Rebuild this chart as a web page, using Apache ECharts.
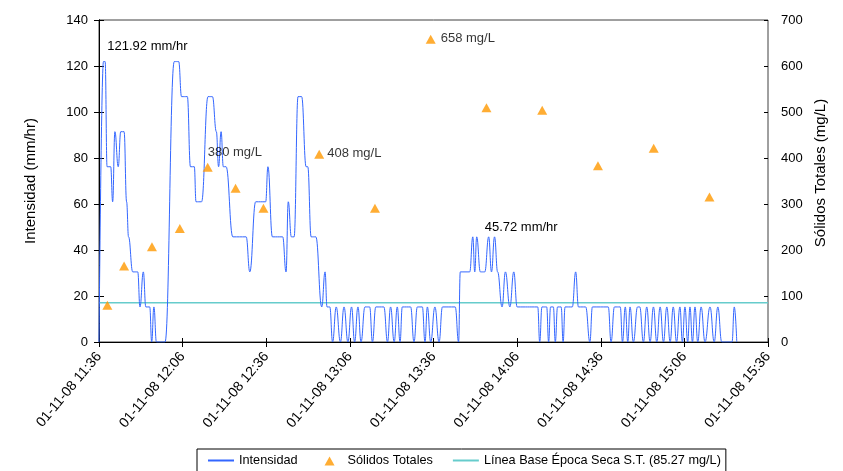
<!DOCTYPE html>
<html><head><meta charset="utf-8">
<script src="https://cdn.jsdelivr.net/npm/echarts@6/dist/echarts.min.js"></script>
<style>html,body{margin:0;padding:0;background:#fff}#c{width:843px;height:471px}</style>
</head><body><div id="c"></div>
<script>
// X tick labels (every 30 minutes from 11:36)
const etiquetasX = ["01-11-08 11:36","01-11-08 12:06","01-11-08 12:36","01-11-08 13:06","01-11-08 13:36","01-11-08 14:06","01-11-08 14:36","01-11-08 15:06","01-11-08 15:36"];

// Intensidad: time in minutes after 11:36 and intensity (mm/hr)
const tiempoInt = [
  0,1.6,2.2,2.9,4.2,4.9,5.7,6.9,7.8,9.0,9.9,10.6,12.1,13.9,14.7,15.9,16.8,18.2,18.9,19.7,20.6,23.7,
  27.0,28.6,29.6,31.7,32.8,34.2,34.8,36.8,39.1,40.7,42.1,42.9,43.8,44.6,45.6,48.0,52.8,54.1,56.2,59.8,
  60.6,62.2,65.9,67.1,67.9,69.0,70.0,71.4,72.7,74.3,74.9,76.1,77.8,79.9,81.1,81.8,82.8,
  83.8,85.1,86.6,87.9,89.3,90.6,91.7,92.9,94.0,95.4,97.1,98.1,99.3,102.2,103.5,104.6,105.9,107.0,108.0,
  108.8,111.8,113.0,114.2,116.0,116.95,117.8,119.0,120.5,122.0,123.2,127.8,129.0,
  129.6,133.0,134.1,134.8,135.5,136.8,138.4,139.8,140.8,141.9,143.0,144.6,145.8,147.4,148.8,150.0,
  157.4,158.1,158.9,160.6,161.3,162.0,163.0,163.7,164.5,165.8,166.5,167.2,169.8,171.0,172.0,174.6,
  176.1,177.0,182.7,183.7,184.9,187.0,
  187.8,188.8,189.7,190.5,191.7,193.2,194.0,195.3,196.5,197.7,198.9,200.1,201.3,202.5,203.7,204.9,
  206.0,207.2,208.4,209.3,210.2,211.2,212.0,212.9,213.8,214.8,216.0,217.4,219.2,220.7,222.0,223.4,
  227.1,227.9,228.8
];
const intensidad = [
  0,121.92,121.92,76.2,76.2,60.96,91.44,76.2,91.44,91.44,60.96,45.72,30.48,30.48,15.24,30.48,15.24,15.24,0,15.24,0,0,
  121.92,121.92,106.68,106.68,76.2,76.2,60.96,60.96,106.68,106.68,91.44,76.2,91.44,76.2,76.2,45.72,45.72,30.48,60.96,60.96,
  76.2,45.72,45.72,30.48,60.96,45.72,45.72,106.68,106.68,76.2,76.2,45.72,45.72,15.24,30.48,15.24,15.24,
  0,15.24,0,15.24,0,15.24,0,15.24,0,15.24,15.24,0,15.24,15.24,0,15.24,0,15.24,0,
  15.24,15.24,0,15.24,15.24,0,15.24,0,15.24,0,15.24,15.24,0,
  30.48,30.48,45.72,30.48,45.72,30.48,30.48,45.72,30.48,45.72,30.48,15.24,30.48,15.24,30.48,15.24,
  15.24,0,15.24,15.24,0,15.24,15.24,0,15.24,15.24,0,15.24,15.24,30.48,15.24,15.24,
  0,15.24,15.24,0,15.24,15.24,
  0,15.24,0,15.24,0,15.24,15.24,0,15.24,0,15.24,0,15.24,0,15.24,0,
  15.24,0,15.24,0,15.24,0,15.24,0,15.24,0,15.24,0,15.24,0,15.24,0,
  0,15.24,0
];

// Sólidos Totales samples
const tiempoST = [3,9,19,29,39,49,59,79,99,119,139,159,179,199,219];
const solidosTotales = [80,165,207,247,380,334,291,408,291,658,509,504,383,421,315];

// Línea base época seca
const lineaBase = 85.27;

const FONT = '"Liberation Sans", Arial, sans-serif';
const chart = echarts.init(document.getElementById('c'), null, {renderer: 'canvas'});

const intData = tiempoInt.map((t, i) => [t, intensidad[i]]);
const stLabels = {4: {txt: '380 mg/L', off: [-10, -15]}, 7: {txt: '408 mg/L', off: [-2, -1]}, 9: {txt: '658 mg/L', off: [0, -1]}};
const stData = tiempoST.map((t, i) => {
  const item = {value: [t, solidosTotales[i]]};
  if (stLabels[i]) {
    item.label = {show: true, position: 'right', formatter: stLabels[i].txt, offset: stLabels[i].off,
      color: '#000', fontSize: 13, fontFamily: FONT};
  }
  return item;
});

const tickStyle = {color: '#000', width: 1};
const baseX = {type: 'value', min: 0, max: 240, interval: 30, gridIndex: 0};
const lblStyle = {color: '#000', fontSize: 13, fontFamily: FONT};
const nameStyle = {color: '#000', fontSize: 15, fontFamily: FONT};
const triIcon = 'path://M0,0L0.01,0L0.01,0.01Z M26,10L25.99,10L25.99,9.99Z M8,10L13,1L18,10Z';
const hiddenSym = {color: 'rgba(0,0,0,0)', borderWidth: 0};

chart.setOption({
  animation: false,
  backgroundColor: '#fff',
  textStyle: {fontFamily: FONT},
  grid: {left: 99, right: 75, top: 20, bottom: 129, show: true, borderColor: '#404040', borderWidth: 1, outerBoundsMode: 'none'},
  xAxis: [
    Object.assign({}, baseX, {
      position: 'bottom',
      axisLine: {show: true, onZero: false, lineStyle: {color: '#000'}},
      axisTick: {show: true, length: 5, lineStyle: tickStyle},
      splitLine: {show: false},
      axisLabel: {color: '#000', fontSize: 14, fontFamily: FONT, rotate: 50, margin: 12,
        formatter: v => etiquetasX[Math.round(v / 30)] || ''}
    }),
    Object.assign({}, baseX, {
      position: 'bottom',
      axisLine: {show: false}, axisLabel: {show: false}, splitLine: {show: false},
      axisTick: {show: true, inside: true, length: 4, lineStyle: tickStyle}
    })
  ],
  yAxis: [
    {type: 'value', min: 0, max: 140, interval: 20, position: 'left',
      name: 'Intensidad (mm/hr)', nameLocation: 'middle', nameGap: 61, nameRotate: 90,
      nameTextStyle: nameStyle,
      axisLine: {show: true, lineStyle: {color: '#000'}},
      axisTick: {show: true, length: 5, lineStyle: tickStyle},
      axisLabel: Object.assign({}, lblStyle, {margin: 11}),
      splitLine: {show: false}},
    {type: 'value', min: 0, max: 700, interval: 100, position: 'right',
      name: 'Sólidos Totales (mg/L)', nameLocation: 'middle', nameGap: 45, nameRotate: 90,
      nameTextStyle: Object.assign({}, nameStyle, {padding: [0, 0, 0, 16]}),
      axisLine: {show: true, lineStyle: {color: '#000'}},
      axisTick: {show: true, length: 5, lineStyle: tickStyle},
      axisLabel: Object.assign({}, lblStyle, {margin: 13}),
      splitLine: {show: false}},
    {type: 'value', min: 0, max: 140, interval: 20, position: 'left',
      axisLine: {show: false}, axisLabel: {show: false}, splitLine: {show: false},
      axisTick: {show: true, inside: true, length: 4, lineStyle: tickStyle}},
    {type: 'value', min: 0, max: 700, interval: 100, position: 'right',
      axisLine: {show: false}, axisLabel: {show: false}, splitLine: {show: false},
      axisTick: {show: true, inside: true, length: 4, lineStyle: tickStyle}}
  ],
  legend: {
    top: 449, left: 197,
    data: [
      {name: 'Intensidad', itemStyle: hiddenSym},
      {name: 'Sólidos Totales', icon: triIcon},
      {name: 'Línea Base Época Seca S.T. (85.27 mg/L)', itemStyle: hiddenSym}
    ],
    borderColor: '#000', borderWidth: 1, padding: [5, 5, 5, 10],
    itemWidth: 26, itemHeight: 10, itemGap: 19,
    textStyle: {color: '#000', fontSize: 12.7, fontFamily: FONT}
  },
  series: [
    {name: 'Intensidad', type: 'line', xAxisIndex: 0, yAxisIndex: 0, data: intData,
      symbol: 'none', smooth: 0.45, smoothMonotone: 'x', lineStyle: {color: '#3366FF', width: 1}, itemStyle: {color: '#3366FF'},
      z: 3,
      markPoint: {symbol: 'circle', symbolSize: 0, silent: true,
        label: {show: true, position: 'right', formatter: '{b}', color: '#000', fontSize: 13, fontFamily: FONT},
        data: [
          {name: '121.92 mm/hr', coord: [1.9, 121.92], label: {distance: 3, offset: [0, -15]}},
          {name: '45.72 mm/hr', coord: [139.8, 45.72], label: {distance: 0, offset: [-4, -9]}}
        ]}},
    {name: 'Sólidos Totales', type: 'scatter', xAxisIndex: 0, yAxisIndex: 1, data: stData,
      symbol: 'triangle', symbolSize: [10, 9], itemStyle: {color: '#FF9900'}, z: 4},
    {name: 'Línea Base Época Seca S.T. (85.27 mg/L)', type: 'line', xAxisIndex: 0, yAxisIndex: 1,
      data: [[0, lineaBase], [240, lineaBase]], symbol: 'none',
      lineStyle: {color: '#66CCCC', width: 1.5}, itemStyle: {color: '#66CCCC'}, z: 2}
  ]
});
</script>
</body></html>
